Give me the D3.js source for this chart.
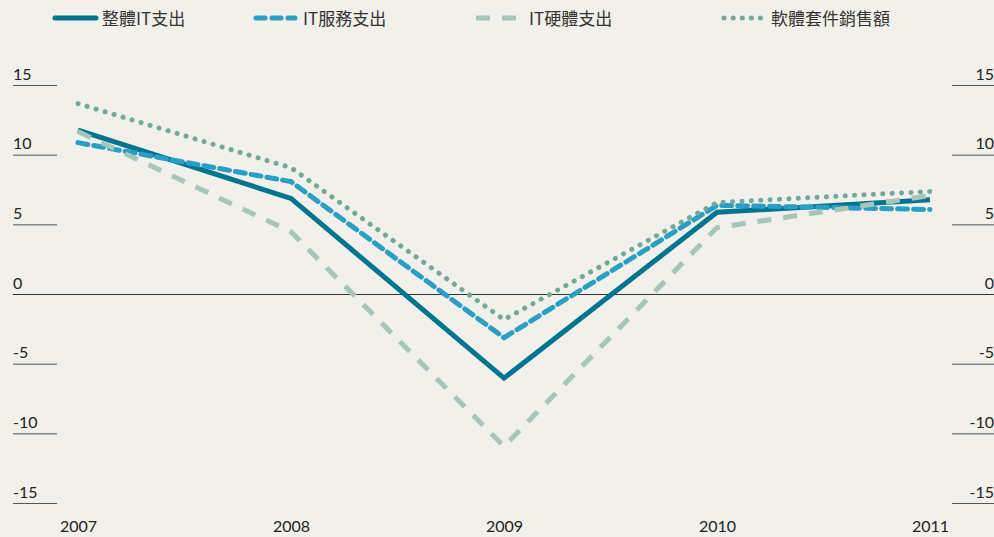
<!DOCTYPE html>
<html>
<head>
<meta charset="utf-8">
<script src="https://cdn.jsdelivr.net/npm/d3@7/dist/d3.min.js"></script>
<style>
  html, body { margin: 0; padding: 0; background: #f1f0ea; }
  svg { display: block; }
</style>
</head>
<body>
<svg id="chart" width="994" height="537"></svg>
<script>
// Annual growth, %, 2007-2011
const years = ["2007", "2008", "2009", "2010", "2011"];
const totalIT = [11.8, 6.9, -6.0, 5.9, 6.8];
const itServices = [10.9, 8.1, -3.1, 6.4, 6.1];
const itHardware = [11.7, 4.5, -10.9, 4.8, 7.1];
const softwareSales = [13.7, 9.1, -1.8, 6.6, 7.4];
const seriesNames = ["整體IT支出", "IT服務支出", "IT硬體支出", "軟體套件銷售額"];
const yTicks = [15, 10, 5, 0, -5, -10, -15];

const styles = [
  { color: "#00758f", dash: null, legendDash: null, cap: "butt", width: 5 },
  { color: "#2a9fc6", dash: "10 6", legendDash: "9 7", cap: "round", width: 5 },
  { color: "#a8c5b8", dash: "14 12", legendDash: "14 12", cap: "butt", width: 5 },
  { color: "#74a996", dash: "0.1 9.3", legendDash: "0.1 9", cap: "round", width: 5 }
];
const allSeries = [totalIT, itServices, itHardware, softwareSales];

const svg = d3.select("#chart");
const W = 994;

const x = d3.scalePoint().domain(years).range([78, 930]);
const y = d3.scaleLinear().domain([-15, 15]).range([503.5, 85.5]);

// Left and right tick rules with labels
const font = "Lato, 'Open Sans', sans-serif";
const axisG = svg.append("g");
yTicks.forEach(t => {
  if (t === 0) return;
  axisG.append("line").attr("x1", 13).attr("x2", 57)
    .attr("y1", y(t)).attr("y2", y(t)).attr("stroke", "#555").attr("stroke-width", 1);
  axisG.append("line").attr("x1", 952).attr("x2", W)
    .attr("y1", y(t)).attr("y2", y(t)).attr("stroke", "#555").attr("stroke-width", 1);
});
yTicks.forEach(t => {
  axisG.append("text").attr("x", 13).attr("y", y(t) - 6)
    .attr("font-family", font).attr("font-size", 16).attr("fill", "#222")
    .text(t);
  axisG.append("text").attr("x", 994).attr("y", y(t) - 6)
    .attr("text-anchor", "end")
    .attr("font-family", font).attr("font-size", 16).attr("fill", "#222")
    .text(t);
});

// Zero baseline
svg.append("line").attr("x1", 13).attr("x2", W)
  .attr("y1", y(0)).attr("y2", y(0)).attr("stroke", "#333").attr("stroke-width", 1);

// X axis labels
const xAxis = d3.axisBottom(x).tickSize(0).tickPadding(0);
const xg = svg.append("g").attr("transform", "translate(0,521)").call(xAxis);
xg.select(".domain").remove();
xg.selectAll("text").attr("font-family", font).attr("font-size", 16).attr("fill", "#222");

// Series lines
const line = d3.line().x((d, i) => x(years[i])).y(d => y(d));
allSeries.forEach((vals, i) => {
  const s = styles[i];
  svg.append("path").datum(vals)
    .attr("d", line)
    .attr("fill", "none")
    .attr("stroke", s.color)
    .attr("stroke-width", s.width)
    .attr("stroke-linecap", s.cap)
    .attr("stroke-linejoin", "miter")
    .attr("stroke-dasharray", s.dash);
});

// Legend
const legendX = [55, 254, 476, 722];
const legendTextX = [102, 303, 529, 771];
const lg = svg.append("g");
seriesNames.forEach((name, i) => {
  const s = styles[i];
  lg.append("line").attr("x1", legendX[i] + (s.cap === "round" ? 2 : 0)).attr("x2", legendX[i] + 41)
    .attr("y1", 18).attr("y2", 18)
    .attr("stroke", s.color).attr("stroke-width", 5)
    .attr("stroke-linecap", i === 0 ? "round" : s.cap)
    .attr("stroke-dasharray", s.legendDash);
  lg.append("text").attr("x", legendTextX[i]).attr("y", 25)
    .attr("font-family", "'Noto Sans CJK TC', 'Noto Sans', sans-serif")
    .attr("font-size", 17).attr("fill", "#333")
    .text(name);
});
</script>
</body>
</html>
